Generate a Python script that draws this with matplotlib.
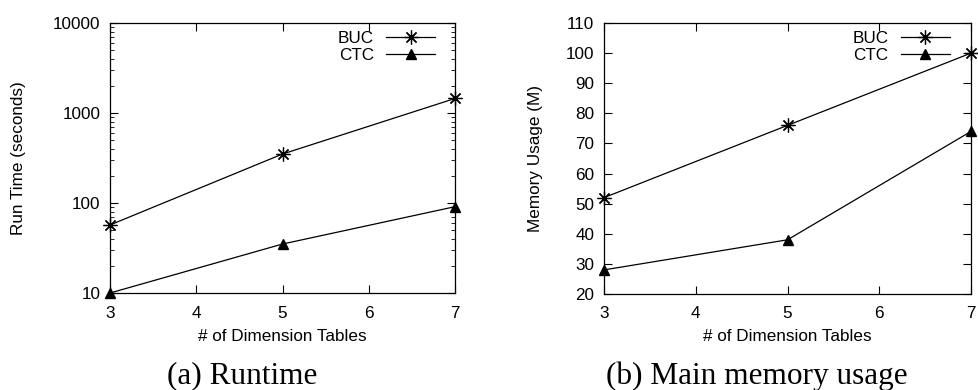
import matplotlib.pyplot as plt
from matplotlib.ticker import LogLocator, NullFormatter

plt.rcParams['font.family'] = ['Liberation Sans', 'DejaVu Sans']

dims = [3, 5, 7]
buc_time = [57, 350, 1450]
ctc_time = [10, 35, 91]
buc_mem = [52, 76, 100]
ctc_mem = [28, 38, 74]

fig = plt.figure(figsize=(9.79, 3.9), dpi=100)
ax1 = fig.add_axes([110/979, 1 - 293/390, 345/979, 270/390])
ax2 = fig.add_axes([604/979, 1 - 294/390, 367/979, 271/390])

star = (8, 2, 0)
fs = 12.3
for ax, buc, ctc in [(ax1, buc_time, ctc_time), (ax2, buc_mem, ctc_mem)]:
    ax.plot(dims, buc, color='black', lw=0.9, marker=star, ms=10, mew=0.9,
            label='BUC', clip_on=False, zorder=3)
    ax.plot(dims, ctc, color='black', lw=0.9, marker='^', ms=7,
            label='CTC', clip_on=False, zorder=3)
    ax.set_xlim(3, 7)
    ax.set_xticks([3, 4, 5, 6, 7])
    ax.tick_params(direction='in', top=True, right=True, labelsize=fs,
                   length=6, width=0.8)
    ax.tick_params(axis='y', pad=7)
    ax.tick_params(axis='x', pad=9)
    ax.tick_params(which='minor', direction='in', top=True, right=True,
                   length=3, width=0.6)
    for s in ax.spines.values():
        s.set_linewidth(0.9)
    ax.set_xlabel('# of Dimension Tables', fontsize=fs)
    leg = ax.legend(loc='upper right', frameon=False, fontsize=fs,
                    markerfirst=False, handlelength=2.9, handletextpad=0.7,
                    labelspacing=0.1, borderaxespad=0, borderpad=0,
                    bbox_to_anchor=(0.943, 0.97))
    for t in leg.get_texts():
        t.set_ha('right')

ax1.set_yscale('log')
ax1.set_ylim(10, 10000)
ax1.yaxis.set_major_locator(LogLocator(base=10))
ax1.yaxis.set_minor_locator(LogLocator(base=10, subs=range(2, 10)))
ax1.yaxis.set_minor_formatter(NullFormatter())
ax1.set_yticks([10, 100, 1000, 10000])
ax1.set_yticklabels(['10', '100', '1000', '10000'])
ax1.set_ylabel('Run Time (seconds)', fontsize=fs)
ax1.yaxis.set_label_coords(-0.243, 0.5)
ax1.xaxis.set_label_coords(0.5, -0.133)

ax2.set_ylim(20, 110)
ax2.set_yticks(range(20, 111, 10))
ax2.set_ylabel('Memory Usage (M)', fontsize=fs)
ax2.yaxis.set_label_coords(-0.166, 0.5)
ax2.xaxis.set_label_coords(0.5, -0.129)

fig.text(242/979, 1 - 376/390, '(a) Runtime', fontsize=22.5,
         family='Liberation Serif', ha='center', va='center')
fig.text(757/979, 1 - 376/390, '(b) Main memory usage', fontsize=22.5,
         family='Liberation Serif', ha='center', va='center')

fig.savefig('out.png', dpi=100)
